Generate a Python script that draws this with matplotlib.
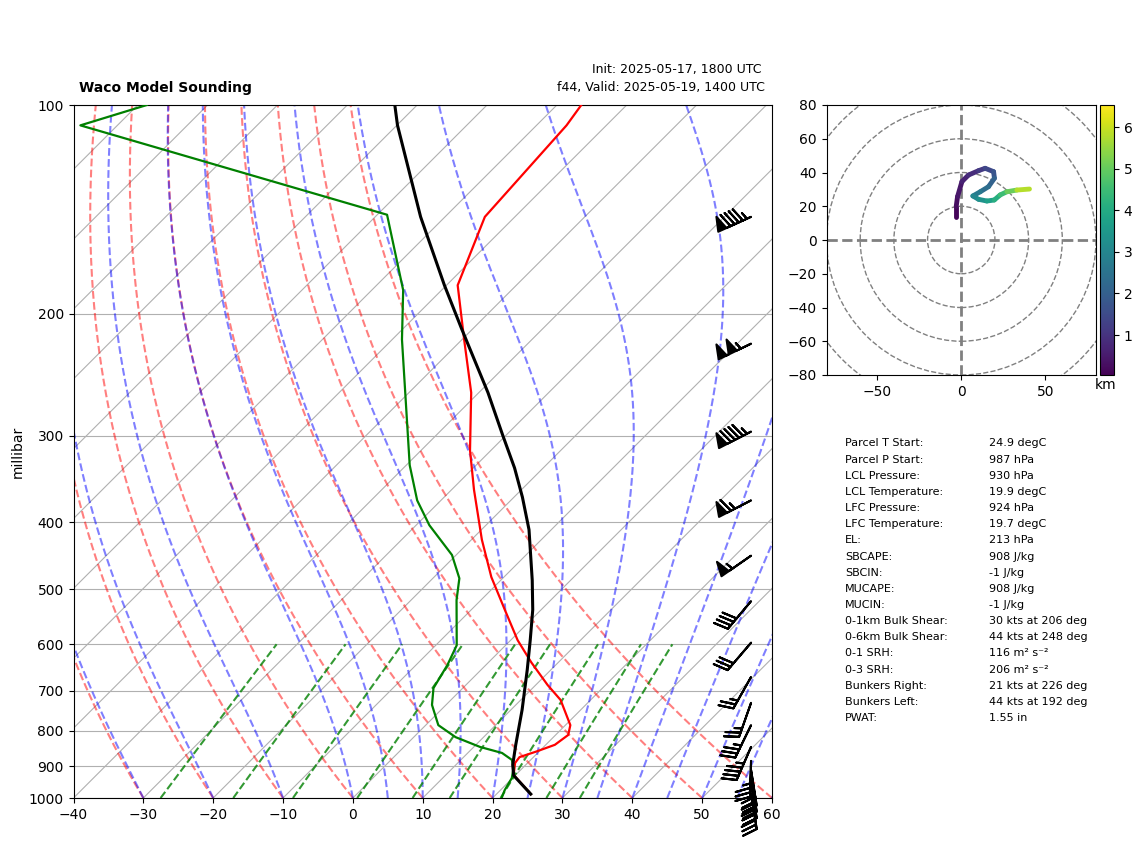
import matplotlib
matplotlib.use('Agg')
import matplotlib.pyplot as plt
import numpy as np
from matplotlib.collections import LineCollection
from matplotlib.cm import ScalarMappable
from matplotlib.colors import Normalize
from matplotlib.patches import Circle

# sounding profiles, hPa and degC
p_temp = [100, 107, 145, 182, 218, 260, 315, 359, 424, 480, 535, 592, 637, 687, 722, 785, 811, 838, 857, 873, 890, 926, 987]
temp = [-66.5, -65.7, -64.3, -58.4, -49.7, -41.1, -33.0, -26.8, -18.5, -11.8, -5.2, 1.0, 6.1, 11.7, 15.7, 20.7, 21.8, 21.3, 19.6, 18.0, 18.2, 19.7, 24.9]

p_dewp = [100, 107, 144, 185, 218, 331, 372, 404, 446, 482, 518, 602, 643, 694, 734, 785, 817, 844, 861, 881, 905, 936, 974, 1000]
dewp = [-128.7, -135.3, -78.6, -65.5, -58.6, -39.5, -33.4, -28.1, -20.6, -16.2, -13.5, -7.0, -5.5, -4.2, -2.0, 1.8, 6.0, 10.9, 14.9, 17.3, 18.7, 19.9, 20.6, 21.3]

p_parcel = [987, 928, 896, 838, 746, 653, 592, 535, 485, 410, 368, 334, 300, 260, 210, 182, 145, 107, 100]
parcel = [24.9, 19.8, 18.15, 15.7, 11.6, 6.6, 2.8, -1.2, -5.5, -13.2, -18.8, -24.1, -30.4, -38.7, -51.7, -60.3, -73.5, -89.9, -93.2]

# wind barbs, knots
p_barb = [145, 221, 296, 372, 447, 520, 597, 669, 729, 785, 844, 884, 911, 930, 950, 985]
u_barb = [86.6, 94.5, 84.5, 57.8, 45.1, 25.7, 19.5, 12.3, 8.3, 15.3, 18.0, 1.0, -4.7, -4.7, -4.7, -4.7]
v_barb = [39.4, 45.8, 43.5, 29.8, 31.4, 30.6, 22.8, 21.8, 23.6, 31.5, 41.3, 35.0, 29.6, 29.6, 29.6, 29.6]

# hodograph, knots and km
hodo_u = [-3.0, -3.0, -2.2, 0.4, 4.3, 10.3, 14.2, 19.2, 19.7, 16.2, 11.3, 6.9, 10.3, 15.2, 19.6, 23.1, 27.1, 33.0, 40.5]
hodo_v = [13.4, 19.8, 25.7, 34.6, 38.5, 41.1, 42.5, 40.5, 36.6, 31.6, 28.6, 26.1, 24.1, 23.1, 23.7, 26.7, 28.6, 29.6, 30.2]
hodo_z = [0.05, 0.2, 0.35, 0.55, 0.75, 1.0, 1.3, 1.6, 1.9, 2.2, 2.5, 2.9, 3.2, 3.5, 3.9, 4.3, 4.7, 5.4, 6.2]

# background lines
dry_t0 = list(range(-40, 61, 10))
moist_t0 = [-40, -30, -20, -10, 0, 5, 10, 15, 20, 25, 30, 35, 40, 45, 50, 55, 60]
mix_w = [0.0004, 0.001, 0.002, 0.004, 0.007, 0.01, 0.016, 0.024, 0.032]

labels = ['Parcel T Start:', 'Parcel P Start:', 'LCL Pressure:', 'LCL Temperature:', 'LFC Pressure:',
          'LFC Temperature:', 'EL:', 'SBCAPE:', 'SBCIN:', 'MUCAPE:', 'MUCIN:', '0-1km Bulk Shear:',
          '0-6km Bulk Shear:', '0-1 SRH:', '0-3 SRH:', 'Bunkers Right:', 'Bunkers Left:', 'PWAT:']
values = ['24.9 degC', '987 hPa', '930 hPa', '19.9 degC', '924 hPa', '19.7 degC', '213 hPa', '908 J/kg',
          '-1 J/kg', '908 J/kg', '-1 J/kg', '30 kts at 206 deg', '44 kts at 248 deg', '116 m² s⁻²',
          '206 m² s⁻²', '21 kts at 226 deg', '44 kts at 192 deg', '1.55 in']

W, H = 1142, 844
SKEW = 99.2  # degC per decade of pressure, gives 45 degree isotherms
RD, CP = 287.0, 1014.0


def box(x0, y0, x1, y1):
    # pixel box (y down) to figure fractions
    return [x0 / W, 1 - y1 / H, (x1 - x0) / W, (y1 - y0) / H]


def skew(t, p):
    return np.asarray(t) + SKEW * np.log10(1000.0 / np.asarray(p))


def moist_line(t0, p):
    # integrate the moist lapse rate from 1000 hPa upward
    Lv, eps = 2.501e6, 0.622
    t = np.zeros(len(p))
    t[0] = t0 + 273.15
    for i in range(1, len(p)):
        es = 6.112 * np.exp(17.67 * (t[i - 1] - 273.15) / (t[i - 1] - 29.65))
        rs = eps * es / (p[i - 1] - es)
        dtdlnp = (RD * t[i - 1] + Lv * rs) / (CP + Lv ** 2 * rs * eps / (RD * t[i - 1] ** 2))
        t[i] = t[i - 1] + dtdlnp * np.log(p[i] / p[i - 1])
    return t - 273.15


fig = plt.figure(figsize=(W / 100, H / 100), dpi=100)
ax = fig.add_axes(box(73.5, 105, 772, 798))
ax.set_yscale('log')

pp = np.linspace(1000, 100, 600)
for t0 in range(-140, 61, 10):
    ax.plot(skew([t0, t0], [1000, 100]), [1000, 100], color='#b0b0b0', lw=0.8, zorder=1)
for t0 in dry_t0:
    ax.plot(skew((t0 + 273.15) * (pp / 1000) ** (RD / CP) - 273.15, pp), pp, 'r--', alpha=0.5, lw=1.5, zorder=2)
for t0 in moist_t0:
    ax.plot(skew(moist_line(t0, pp), pp), pp, 'b--', alpha=0.5, lw=1.5, zorder=2)
pw = np.linspace(1000, 600, 50)
for w in mix_w:
    e = pw * w / (0.622 + w)
    lne = np.log(e / 6.112)
    ax.plot(skew(243.5 * lne / (17.67 - lne), pw), pw, 'g--', alpha=0.8, lw=1.5, zorder=2)

ax.plot(skew(temp, p_temp), p_temp, 'r', lw=1.6, zorder=3)
ax.plot(skew(dewp, p_dewp), p_dewp, 'g', lw=1.6, zorder=3)
ax.plot(skew(parcel, p_parcel), p_parcel, 'k', lw=2.2, zorder=4)

ax.barbs(np.full(len(p_barb), 0.97), p_barb, u_barb, v_barb, length=7.2, lw=1.5, color='k',
         transform=ax.get_yaxis_transform(), clip_on=False, zorder=5)

ax.set_xlim(-40, 60)
ax.set_ylim(1000, 100)
ax.set_xticks(np.arange(-40, 61, 10))
ax.set_yticks(np.arange(100, 1001, 100))
ax.set_yticklabels([str(v) for v in range(100, 1001, 100)])
ax.minorticks_off()
ax.yaxis.grid(True, color='#b0b0b0', lw=0.8, zorder=1)
ax.set_ylabel('millibar')
ax.yaxis.set_label_coords(-0.07, 0.5)

fig.text(79 / W, 1 - 88 / H, 'Waco Model Sounding', fontsize=10, fontweight='bold', va='center')
fig.text(762 / W, 1 - 70 / H, 'Init: 2025-05-17, 1800 UTC', fontsize=9, ha='right', va='center')
fig.text(765 / W, 1 - 88 / H, 'f44, Valid: 2025-05-19, 1400 UTC', fontsize=9, ha='right', va='center')

# hodograph
hax = fig.add_axes(box(826.5, 105, 1096, 375))
for r in [20, 40, 60, 80, 100]:
    hax.add_patch(Circle((0, 0), r, fill=False, ec='gray', ls='--', lw=1))
hax.axhline(0, color='gray', ls='--', lw=2)
hax.axvline(0, color='gray', ls='--', lw=2)
norm = Normalize(0.04, 6.53)
pts = np.column_stack([hodo_u, hodo_v])
segs = np.stack([pts[:-1], pts[1:]], axis=1)
lc = LineCollection(segs, cmap='viridis', norm=norm, lw=3.5, capstyle='round')
lc.set_array(np.array(hodo_z[:-1]) / 2 + np.array(hodo_z[1:]) / 2)
hax.add_collection(lc)
hax.set_xlim(-80, 80)
hax.set_ylim(-80, 80)
hax.set_xticks([-50, 0, 50])
hax.set_yticks(np.arange(-80, 81, 20))

cax = fig.add_axes(box(1100, 105, 1114, 375))
cb = fig.colorbar(ScalarMappable(norm=norm, cmap='viridis'), cax=cax)
cb.set_ticks([1, 2, 3, 4, 5, 6])
fig.text(1106 / W, 1 - 385 / H, 'km', fontsize=10, ha='center', va='center')

# parcel table
for i, (a, b) in enumerate(zip(labels, values)):
    y = 443.5 + i * 16.15
    fig.text(845 / W, 1 - y / H, a, fontsize=8, va='center')
    fig.text(989 / W, 1 - y / H, b, fontsize=8, va='center')

fig.savefig('out.png', dpi=100)
